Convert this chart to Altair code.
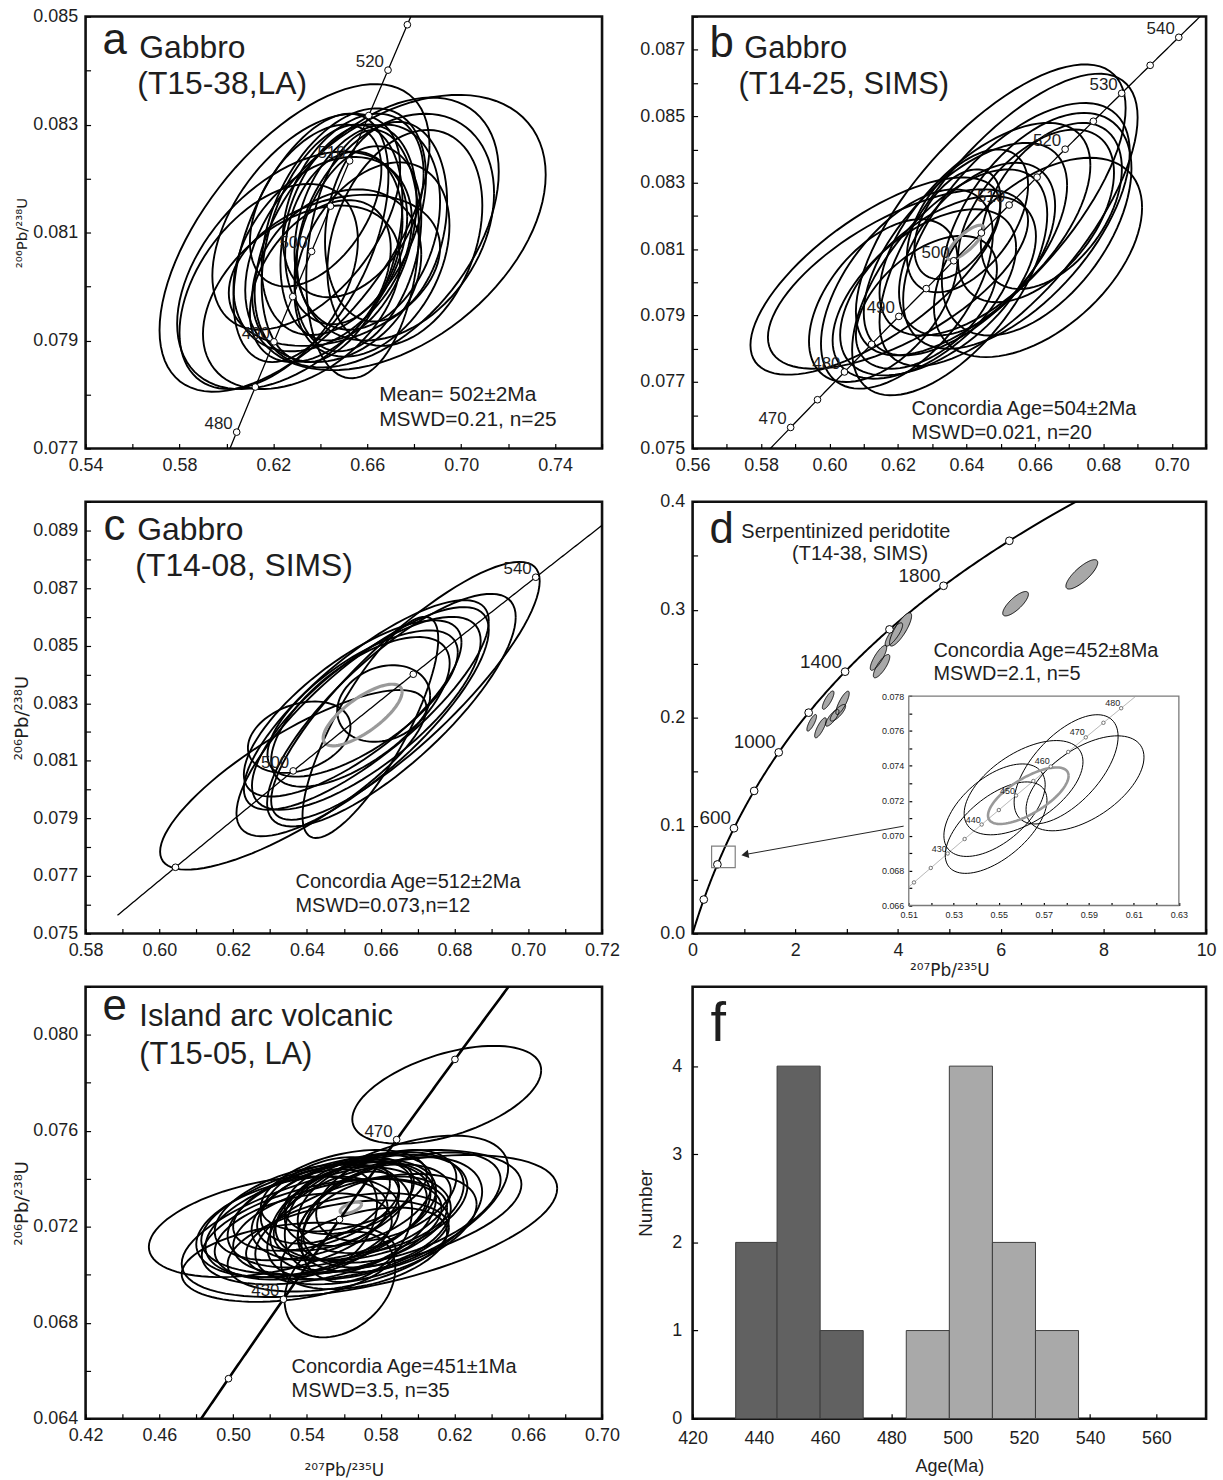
import numpy as np
import pandas as pd
import altair as alt

FONT = "Liberation Sans"
SUPFONT = "DejaVu Sans"
TXT = "#1e1e1e"

# ---------------- decay constants (per Ma) ----------------
L238 = 1.55125e-4
L235 = 9.8485e-4

# ---------------- panel a : Gabbro T15-38 LA ----------------
A_CX = [0.629, 0.672, 0.664, 0.672, 0.628, 0.618, 0.636, 0.645, 0.652, 0.660, 0.641, 0.650, 0.656,
        0.634, 0.662, 0.647, 0.654, 0.668, 0.640, 0.658, 0.632, 0.646, 0.676, 0.650, 0.638]
A_CY = [0.0809, 0.0810, 0.0810, 0.0811, 0.0803, 0.0800, 0.0809, 0.0808, 0.0810, 0.0811, 0.0806, 0.0812, 0.0807,
        0.0812, 0.0805, 0.0802, 0.0815, 0.0812, 0.0801, 0.0806, 0.0798, 0.0803, 0.0809, 0.0809, 0.0815]
A_SX = [0.0575, 0.0640, 0.0520, 0.0420, 0.0490, 0.0380, 0.0330, 0.0300, 0.0290, 0.0310, 0.0380, 0.0350, 0.0270,
        0.0400, 0.0330, 0.0360, 0.0300, 0.0260, 0.0300, 0.0240, 0.0420, 0.0450, 0.0330, 0.0250, 0.0280]
A_SY = [0.00285, 0.00255, 0.00250, 0.00210, 0.00220, 0.00190, 0.00230, 0.00220, 0.00200, 0.00190, 0.00180, 0.00210, 0.00190,
        0.00200, 0.00180, 0.00160, 0.00170, 0.00185, 0.00150, 0.00230, 0.00170, 0.00140, 0.00200, 0.00160, 0.00150]
A_RHO = [0.60, 0.42, 0.45, 0.30, 0.45, 0.45, 0.50, 0.35, 0.30, 0.25, 0.35, 0.40, 0.30,
         0.50, 0.35, 0.25, 0.35, 0.20, 0.40, 0.20, 0.40, 0.30, 0.30, 0.20, 0.45]
A_MARK_AGES = [475, 480, 485, 490, 495, 500, 505, 510, 515, 520, 525, 530]
A_LABEL_AGES = [480, 490, 500, 510, 520]

# ---------------- panel b : Gabbro T14-25 SIMS ----------------
B_CX = [0.6134, 0.6200, 0.6471, 0.6523, 0.6609, 0.6605, 0.6546, 0.6403, 0.6374, 0.6157,
        0.6226, 0.6351, 0.6317, 0.6397, 0.6277, 0.6603, 0.6648, 0.6454, 0.6283, 0.6431]
B_CY = [0.08019, 0.0801, 0.08218, 0.08188, 0.08075, 0.08175, 0.0817, 0.08185, 0.08175, 0.07945,
        0.0798, 0.0800, 0.0799, 0.0810, 0.07965, 0.0820, 0.0823, 0.0816, 0.0794, 0.0810]
B_SX = [0.0365, 0.0380, 0.0394, 0.0377, 0.0304, 0.0277, 0.0331, 0.0177, 0.0126, 0.0217,
        0.0251, 0.0285, 0.0286, 0.0297, 0.0268, 0.0228, 0.0206, 0.0308, 0.0206, 0.0228]
B_SY = [0.00297, 0.0027, 0.00438, 0.0044, 0.0030, 0.00335, 0.0037, 0.00215, 0.00165, 0.00245,
        0.0030, 0.0034, 0.0027, 0.0032, 0.00255, 0.0026, 0.0025, 0.0032, 0.0020, 0.0026]
B_RHO = [0.70, 0.65, 0.70, 0.70, 0.50, 0.50, 0.60, 0.50, 0.45, 0.50,
         0.55, 0.60, 0.55, 0.60, 0.55, 0.50, 0.45, 0.60, 0.50, 0.50]
B_GRAY = [0.6397, 0.0812, 0.0054, 0.00052, 0.8]
B_MARK_AGES = [465, 470, 475, 480, 485, 490, 495, 500, 505, 510, 515, 520, 525, 530, 535, 540, 545]
B_LABEL_AGES = [470, 480, 490, 500, 510, 520, 530, 540]

# ---------------- panel c : Gabbro T14-08 SIMS ----------------
C_CX = [0.6363, 0.6667, 0.6629, 0.6561, 0.6551, 0.6524, 0.6379, 0.6608, 0.6551, 0.6545, 0.6561, 0.6572]
C_CY = [0.08034, 0.08343, 0.08276, 0.08294, 0.08236, 0.08282, 0.08182, 0.08299, 0.08299, 0.0827, 0.08265, 0.08216]
C_SX = [0.0361, 0.0364, 0.0337, 0.0332, 0.0342, 0.0295, 0.0139, 0.0126, 0.0258, 0.0242, 0.0310, 0.0184]
C_SY = [0.00312, 0.00448, 0.00404, 0.00364, 0.00398, 0.00306, 0.00124, 0.00133, 0.00254, 0.0026, 0.00335, 0.00384]
C_RHO = [0.80, 0.85, 0.80, 0.80, 0.80, 0.75, 0.30, 0.20, 0.70, 0.65, 0.75, 0.80]
C_GRAY = [0.6551, 0.08259, 0.0107, 0.00107, 0.75]
C_MARK_AGES = [480, 500, 520, 540]
C_LABEL_AGES = [500, 540]

# ---------------- panel d : Serpentinized peridotite T14-38 SIMS ----------------
D_CX = [7.58, 6.29, 4.05, 3.92, 3.62, 3.68, 2.64, 2.92, 2.83, 2.72, 2.32, 2.49]
D_CY = [0.3327, 0.3055, 0.2817, 0.2770, 0.2554, 0.2477, 0.2162, 0.2137, 0.2045, 0.1998, 0.1952, 0.1906]
D_SX = [0.31, 0.25, 0.215, 0.17, 0.16, 0.16, 0.113, 0.13, 0.15, 0.13, 0.094, 0.113]
D_SY = [0.0136, 0.0113, 0.0154, 0.0108, 0.0116, 0.0108, 0.0085, 0.0108, 0.0077, 0.0077, 0.0077, 0.0093]
D_RHO = [0.80, 0.78, 0.82, 0.82, 0.82, 0.80, 0.80, 0.82, 0.80, 0.80, 0.80, 0.80]
D_MARK_AGES = [200, 400, 600, 800, 1000, 1200, 1400, 1600, 1800, 2000]
D_LABEL_AGES = [600, 1000, 1400, 1800]
D_SQUARE_X = [0.37, 0.83]
D_SQUARE_Y = [0.061, 0.081]
D_ARROW_X = [4.11, 1.02]
D_ARROW_Y = [0.0995, 0.0732]
# inset
INS_XDOM = [0.51, 0.63]
INS_YDOM = [0.066, 0.078]
INS_CX = [0.5799, 0.5883, 0.5610, 0.5481, 0.5488]
INS_CY = [0.0738, 0.0730, 0.07275, 0.07146, 0.07046]
INS_SX = [0.0231, 0.0262, 0.0264, 0.0225, 0.0226]
INS_SY = [0.00313, 0.00272, 0.00270, 0.00265, 0.00262]
INS_RHO = [0.60, 0.55, 0.55, 0.55, 0.60]
INS_GRAY = [0.5631, 0.07229, 0.0179, 0.00162, 0.7]
INS_MARK_AGES = [420, 425, 430, 435, 440, 445, 450, 455, 460, 465, 470, 475, 480]
INS_LABEL_AGES = [430, 440, 450, 460, 470, 480]

# ---------------- panel e : Island arc volcanic T15-05 LA ----------------
E_CX = [0.6158, 0.5739, 0.5190, 0.5579, 0.5301, 0.5838, 0.5695,
        0.545, 0.552, 0.560, 0.565, 0.570, 0.558, 0.548, 0.575, 0.580, 0.568, 0.555, 0.540, 0.535, 0.562,
        0.572, 0.585, 0.590, 0.550, 0.563, 0.578, 0.545, 0.557, 0.567, 0.553, 0.583, 0.538, 0.571, 0.560]
E_CY = [0.0775, 0.07203, 0.0720, 0.06959, 0.07052, 0.0728, 0.0726,
        0.0722, 0.0725, 0.0727, 0.0724, 0.0726, 0.0720, 0.0718, 0.0728, 0.0730, 0.0731, 0.0729, 0.0726, 0.0720, 0.0716,
        0.0719, 0.0725, 0.0728, 0.0731, 0.0733, 0.0722, 0.0728, 0.0712, 0.0720, 0.0723, 0.0733, 0.0716, 0.0711, 0.0735]
E_SX = [0.0512, 0.1018, 0.0647, 0.0300, 0.0580, 0.0653, 0.0868,
        0.060, 0.055, 0.050, 0.045, 0.048, 0.058, 0.065, 0.052, 0.045, 0.040, 0.042, 0.050, 0.055, 0.055,
        0.060, 0.050, 0.055, 0.035, 0.035, 0.040, 0.045, 0.060, 0.030, 0.025, 0.038, 0.048, 0.045, 0.045]
E_SY = [0.00204, 0.00296, 0.00210, 0.0022, 0.00165, 0.0030, 0.00260,
        0.0023, 0.0022, 0.0021, 0.0023, 0.0020, 0.0020, 0.0022, 0.0022, 0.0021, 0.0019, 0.0019, 0.0020, 0.0021, 0.0018,
        0.0023, 0.0024, 0.0023, 0.0018, 0.0016, 0.0019, 0.0018, 0.0019, 0.0023, 0.0021, 0.0019, 0.0018, 0.0017, 0.0017]
E_RHO = [0.50, 0.53, 0.40, 0.30, 0.30, 0.55, 0.45,
         0.45, 0.40, 0.40, 0.35, 0.45, 0.40, 0.45, 0.40, 0.35, 0.40, 0.45, 0.40, 0.35, 0.40,
         0.45, 0.40, 0.50, 0.40, 0.35, 0.30, 0.45, 0.40, 0.30, 0.30, 0.40, 0.35, 0.40, 0.40]
E_GRAY = [0.5638, 0.07279, 0.0058, 0.00024, 0.6]
E_MARK_AGES = [410, 430, 450, 470, 490, 510]
E_LABEL_AGES = [430, 470]

# ---------------- panel f : histogram ----------------
F_DARK_EDGES = [433.0, 445.5, 458.5, 471.5]
F_DARK_COUNTS = [2, 4, 1]
F_LIGHT_EDGES = [484.5, 497.5, 510.5, 523.5, 536.5]
F_LIGHT_COUNTS = [1, 4, 2, 1]

# ---------------- layout ----------------
W1, W2, H = 519, 516, 434


def conc_xy(ages):
    a = np.asarray(ages, dtype=float)
    return np.expm1(L235 * a), np.expm1(L238 * a)


def conc_line(t0, t1, n=300):
    t = np.linspace(t0, t1, n)
    x, y = conc_xy(t)
    return pd.DataFrame({"x": x, "y": y, "t": t})


def conc_points(ages):
    x, y = conc_xy(ages)
    return pd.DataFrame({"x": x, "y": y, "age": [str(a) for a in ages]})


def ellipses(cx, cy, sx, sy, rho, n=90):
    rows = []
    th = np.linspace(0, 2 * np.pi, n + 1)
    for i in range(len(cx)):
        r = rho[i]
        xs = cx[i] + sx[i] * np.cos(th)
        ys = cy[i] + sy[i] * (r * np.cos(th) + np.sqrt(1 - r * r) * np.sin(th))
        for k in range(n + 1):
            rows.append({"id": i, "k": k, "x": xs[k], "y": ys[k]})
    return pd.DataFrame(rows)


def ellipse_areas(cx, cy, sx, sy, rho, n=60):
    rows = []
    u = np.cos(np.linspace(np.pi, 0, n))
    for i in range(len(cx)):
        r = rho[i]
        mid = cy[i] + r * sy[i] * u
        half = sy[i] * np.sqrt(1 - r * r) * np.sqrt(np.clip(1 - u * u, 0, None))
        for k in range(n):
            rows.append({"id": i, "x": cx[i] + sx[i] * u[k], "y": mid[k] - half[k], "y2": mid[k] + half[k]})
    return pd.DataFrame(rows)


def tick_vals(lo, hi, step):
    n = int(round((hi - lo) / step))
    return [round(lo + i * step, 6) for i in range(n + 1)]


def make_axis(vals, base, step, fmt, title=None, tick=5, size=18, orient=None,
              offset_extra=0, title_size=17, title_pad=None, title_font=FONT, lab_pad=3):
    expr = ("abs((datum.value-({b}))/({s}) - round((datum.value-({b}))/({s}))) < 0.01 "
            "? format(datum.value, '{f}') : ''").format(b=base, s=step, f=fmt)
    kw = dict(values=vals, labelExpr=expr, tickSize=tick, offset=-(tick + offset_extra),
              domain=False, grid=False, labelPadding=tick + lab_pad, tickColor="black", tickWidth=1.2,
              labelFontSize=size, labelColor=TXT, labelFont=FONT, labelOverlap=False,
              labelFlush=False)
    if orient:
        kw["orient"] = orient
    if title:
        kw.update(title=title, titleFontSize=title_size, titleFont=title_font, titleFontWeight="normal",
                  titleColor=TXT)
        if title_pad is not None:
            kw["titlePadding"] = title_pad
    else:
        kw["title"] = None
    return alt.Axis(**kw)


def texts(items):
    out = []
    for txt, px, py, size in items:
        out.append(alt.Chart(pd.DataFrame({"t": [txt]})).mark_text(
            align="left", baseline="alphabetic", font=FONT, fontSize=size, color=TXT
        ).encode(x=alt.value(px), y=alt.value(py), text="t:N"))
    return out


def u_pb_panel(X, Y, ell_df, gray, conc_rng, mark_ages, label_ages, items,
               conc_w=1.3, ell_w=1.9, label_size=17, width=W1):
    layers = [alt.Chart(ell_df).mark_line(color="black", strokeWidth=ell_w, clip=True).encode(
        x=X, y=Y, detail="id:N", order="k:Q")]
    if gray is not None:
        gdf = ellipses([gray[0]], [gray[1]], [gray[2]], [gray[3]], [gray[4]])
        layers.append(alt.Chart(gdf).mark_line(color="#9a9a9a", strokeWidth=3.2, clip=True).encode(
            x=X, y=Y, detail="id:N", order="k:Q"))
    layers.append(alt.Chart(conc_line(*conc_rng)).mark_line(color="black", strokeWidth=conc_w, clip=True)
                  .encode(x=X, y=Y, order="t:Q"))
    layers.append(alt.Chart(conc_points(mark_ages)).mark_point(
        shape="circle", filled=True, fill="white", stroke="black", strokeWidth=1, size=45, opacity=1,
        clip=True).encode(x=X, y=Y))
    layers.append(alt.Chart(conc_points(label_ages)).mark_text(
        align="right", baseline="alphabetic", dx=-4, dy=-3, font=FONT, fontSize=label_size, color=TXT,
        clip=True).encode(x=X, y=Y, text="age:N"))
    layers += texts(items)
    return alt.layer(*layers).properties(width=width, height=H)


PB206 = "²⁰⁶Pb/²³⁸U"
PB207 = "²⁰⁷Pb/²³⁵U"

# ---- panel a
Xa = alt.X("x:Q", scale=alt.Scale(domain=[0.54, 0.76], nice=False, zero=False),
           axis=make_axis(tick_vals(0.54, 0.76, 0.02), 0.54, 0.04, ".2f"))
Ya = alt.Y("y:Q", scale=alt.Scale(domain=[0.077, 0.085], nice=False, zero=False),
           axis=make_axis(tick_vals(0.077, 0.085, 0.001), 0.077, 0.002, ".3f", title=PB206, title_size=15,
                          title_font=SUPFONT, title_pad=3))
panel_a = u_pb_panel(Xa, Ya, ellipses(A_CX, A_CY, A_SX, A_SY, A_RHO), None, (470, 540),
                     A_MARK_AGES, A_LABEL_AGES,
                     [("a", 17, 38, 44), ("Gabbro", 54, 42, 32), ("(T15-38,LA)", 52, 78, 32),
                      ("Mean= 502±2Ma", 295, 386, 21), ("MSWD=0.21, n=25", 295, 411, 21)])

# ---- panel b
Xb = alt.X("x:Q", scale=alt.Scale(domain=[0.56, 0.71], nice=False, zero=False),
           axis=make_axis(tick_vals(0.56, 0.71, 0.01), 0.56, 0.02, ".2f"))
Yb = alt.Y("y:Q", scale=alt.Scale(domain=[0.075, 0.088], nice=False, zero=False),
           axis=make_axis(tick_vals(0.075, 0.088, 0.001), 0.075, 0.002, ".3f"))
panel_b = u_pb_panel(Xb, Yb, ellipses(B_CX, B_CY, B_SX, B_SY, B_RHO), B_GRAY, (455, 550),
                     B_MARK_AGES, B_LABEL_AGES,
                     [("b", 17, 41, 44), ("Gabbro", 52, 42, 31), ("(T14-25, SIMS)", 46, 78, 31),
                      ("Concordia Age=504±2Ma", 220, 400, 20), ("MSWD=0.021, n=20", 220, 424, 20)],
                     width=W2)

# ---- panel c
Xc = alt.X("x:Q", scale=alt.Scale(domain=[0.58, 0.72], nice=False, zero=False),
           axis=make_axis(tick_vals(0.58, 0.72, 0.01), 0.58, 0.02, ".2f"))
Yc = alt.Y("y:Q", scale=alt.Scale(domain=[0.075, 0.090], nice=False, zero=False),
           axis=make_axis(tick_vals(0.075, 0.090, 0.001), 0.075, 0.002, ".3f", title=PB206, title_size=18,
                          title_font=SUPFONT, title_pad=1))
panel_c = u_pb_panel(Xc, Yc, ellipses(C_CX, C_CY, C_SX, C_SY, C_RHO), C_GRAY, (470, 560),
                     C_MARK_AGES, C_LABEL_AGES,
                     [("c", 18, 38, 44), ("Gabbro", 52, 38, 32), ("(T14-08, SIMS)", 50, 75, 32),
                      ("Concordia Age=512±2Ma", 211, 388, 20), ("MSWD=0.073,n=12", 211, 412, 20)])

# ---- panel e
Xe = alt.X("x:Q", scale=alt.Scale(domain=[0.42, 0.70], nice=False, zero=False),
           axis=make_axis(tick_vals(0.42, 0.70, 0.02), 0.42, 0.04, ".2f", title=PB207, title_size=17,
                          title_pad=18, title_font=SUPFONT))
Ye = alt.Y("y:Q", scale=alt.Scale(domain=[0.064, 0.082], nice=False, zero=False),
           axis=make_axis(tick_vals(0.064, 0.082, 0.002), 0.064, 0.004, ".3f", title=PB206, title_size=18,
                          title_font=SUPFONT, title_pad=1))
panel_e = u_pb_panel(Xe, Ye, ellipses(E_CX, E_CY, E_SX, E_SY, E_RHO), E_GRAY, (380, 530),
                     E_MARK_AGES, E_LABEL_AGES,
                     [("e", 17, 33, 44), ("Island arc volcanic", 54, 39, 31), ("(T15-05, LA)", 54, 78, 31),
                      ("Concordia Age=451±1Ma", 207, 388, 20), ("MSWD=3.5, n=35", 207, 412, 20)],
                     conc_w=2.6)

# ---- panel d
Xd = alt.X("x:Q", scale=alt.Scale(domain=[0, 10], nice=False, zero=False),
           axis=make_axis(tick_vals(0, 10, 1), 0, 2, "d", title=PB207, title_size=17, title_pad=3,
                          title_font=SUPFONT))
Yd = alt.Y("y:Q", scale=alt.Scale(domain=[0, 0.4], nice=False, zero=False),
           axis=make_axis(tick_vals(0, 0.4, 0.05), 0, 0.1, ".1f"))
d_area = ellipse_areas(D_CX, D_CY, D_SX, D_SY, D_RHO)
d_layers = [
    alt.Chart(conc_line(0, 2250)).mark_line(color="black", strokeWidth=2, clip=True).encode(x=Xd, y=Yd, order="t:Q"),
    alt.Chart(d_area).mark_area(color="#a8a8a8", opacity=1, clip=True).encode(
        x=Xd, y=Yd, y2="y2:Q", detail="id:N"),
    alt.Chart(ellipses(D_CX, D_CY, D_SX, D_SY, D_RHO)).mark_line(color="black", strokeWidth=0.9, clip=True)
    .encode(x=Xd, y=Yd, detail="id:N", order="k:Q"),
    alt.Chart(conc_points(D_MARK_AGES)).mark_point(
        shape="circle", filled=True, fill="white", stroke="black", strokeWidth=1, size=60, opacity=1,
        clip=True).encode(x=Xd, y=Yd),
    alt.Chart(conc_points(D_LABEL_AGES)).mark_text(
        align="right", baseline="alphabetic", dx=-3, dy=-4, font=FONT, fontSize=19, color=TXT
    ).encode(x=Xd, y=Yd, text="age:N"),
    alt.Chart(pd.DataFrame({"x": [D_SQUARE_X[0]], "x2": [D_SQUARE_X[1]], "y": [D_SQUARE_Y[0]],
                            "y2": [D_SQUARE_Y[1]]})).mark_rect(
        fillOpacity=0, stroke="#808080", strokeWidth=1.2).encode(x=Xd, x2="x2:Q", y=Yd, y2="y2:Q"),
    alt.Chart(pd.DataFrame({"x": D_ARROW_X, "y": D_ARROW_Y, "k": [0, 1]})).mark_line(
        color="#222", strokeWidth=1).encode(x=Xd, y=Yd, order="k:Q"),
    alt.Chart(pd.DataFrame({"x": [D_ARROW_X[1]], "y": [D_ARROW_Y[1]]})).mark_point(
        shape="triangle-left", filled=True, color="#222", size=70, angle=350, opacity=1).encode(x=Xd, y=Yd),
] + texts([("d", 17, 42, 44), ("Serpentinized peridotite", 49, 36, 20), ("(T14-38, SIMS)", 100, 59, 20),
           ("Concordia Age=452±8Ma", 242, 156, 20), ("MSWD=2.1, n=5", 242, 179, 20)])
d_main = alt.layer(*d_layers)

IL, IR = 0.421 * W2, 0.947 * W2
IT, IB = (0.4 - 0.220) / 0.4 * H, (0.4 - 0.026) / 0.4 * H
Xi = alt.X("x:Q", scale=alt.Scale(domain=INS_XDOM, range=[IL, IR], nice=False, zero=False),
           axis=make_axis(tick_vals(0.51, 0.63, 0.01), 0.51, 0.02, ".2f", tick=3, size=9,
                          orient="bottom", offset_extra=H - IB, lab_pad=2))
Yi = alt.Y("y:Q", scale=alt.Scale(domain=INS_YDOM, range=[IB, IT], nice=False, zero=False),
           axis=make_axis(tick_vals(0.066, 0.078, 0.001), 0.066, 0.002, ".3f", tick=3, size=9,
                          orient="left", offset_extra=IL, lab_pad=2))
t_start = np.log1p(INS_XDOM[0]) / L235
t_end = np.log1p(INS_YDOM[1]) / L238
ins_layers = [
    alt.Chart(pd.DataFrame({"x": [INS_XDOM[0]], "x2": [INS_XDOM[1]], "y": [INS_YDOM[0]],
                            "y2": [INS_YDOM[1]]})).mark_rect(
        fillOpacity=0, stroke="#7a7a7a", strokeWidth=1.3).encode(x=Xi, x2="x2:Q", y=Yi, y2="y2:Q"),
    alt.Chart(conc_line(t_start, t_end)).mark_line(color="#999", strokeWidth=0.8).encode(x=Xi, y=Yi, order="t:Q"),
    alt.Chart(ellipses(INS_CX, INS_CY, INS_SX, INS_SY, INS_RHO)).mark_line(color="black", strokeWidth=1)
    .encode(x=Xi, y=Yi, detail="id:N", order="k:Q"),
    alt.Chart(ellipses([INS_GRAY[0]], [INS_GRAY[1]], [INS_GRAY[2]], [INS_GRAY[3]], [INS_GRAY[4]]))
    .mark_line(color="#999", strokeWidth=2.6).encode(x=Xi, y=Yi, detail="id:N", order="k:Q"),
    alt.Chart(conc_points(INS_MARK_AGES)).mark_point(
        shape="circle", filled=True, fill="white", stroke="#555", strokeWidth=0.8, size=12, opacity=1
    ).encode(x=Xi, y=Yi),
    alt.Chart(conc_points(INS_LABEL_AGES)).mark_text(
        align="right", baseline="alphabetic", dx=-1, dy=-2, font=FONT, fontSize=9, color=TXT
    ).encode(x=Xi, y=Yi, text="age:N"),
]
d_inset = alt.layer(*ins_layers)
panel_d = alt.layer(d_main, d_inset).resolve_scale(x="independent", y="independent").properties(
    width=W2, height=H)

# ---- panel f
f_rows = []
for i, c in enumerate(F_DARK_COUNTS):
    f_rows.append({"start": F_DARK_EDGES[i], "end": F_DARK_EDGES[i + 1], "count": c, "zero": 0, "grp": "dark"})
for i, c in enumerate(F_LIGHT_COUNTS):
    f_rows.append({"start": F_LIGHT_EDGES[i], "end": F_LIGHT_EDGES[i + 1], "count": c, "zero": 0, "grp": "light"})
f_df = pd.DataFrame(f_rows)
Xf = alt.X("start:Q", scale=alt.Scale(domain=[420, 575], nice=False, zero=False),
           axis=make_axis(tick_vals(420, 560, 20), 420, 20, "d", title="Age(Ma)", title_size=18,
                          title_pad=10, lab_pad=6))
Yf = alt.Y("count:Q", scale=alt.Scale(domain=[0, 4.9], nice=False, zero=False),
           axis=make_axis(tick_vals(0, 4, 1), 0, 1, "d", title="Number", title_size=19, title_pad=16,
                          lab_pad=6))
f_bars = alt.Chart(f_df).mark_rect(stroke="#3c3c3c", strokeWidth=1).encode(
    x=Xf, x2="end:Q", y=Yf, y2="zero:Q",
    color=alt.Color("grp:N", scale=alt.Scale(domain=["dark", "light"], range=["#616161", "#a9a9a9"]),
                    legend=None))
panel_f = alt.layer(f_bars, *texts([("f", 18, 54, 56)])).properties(width=W2, height=H)

chart = alt.concat(panel_a, panel_b, panel_c, panel_d, panel_e, panel_f, columns=2,
                   spacing={"row": 53.5, "column": 91}, bounds="flush", align="each").properties(
    background="white", padding={"left": 12, "top": 2, "right": 5, "bottom": 5}
).configure_view(stroke="#111111", strokeWidth=2.6)

chart.save("out.html", embed_options={"renderer": "svg", "actions": False})
